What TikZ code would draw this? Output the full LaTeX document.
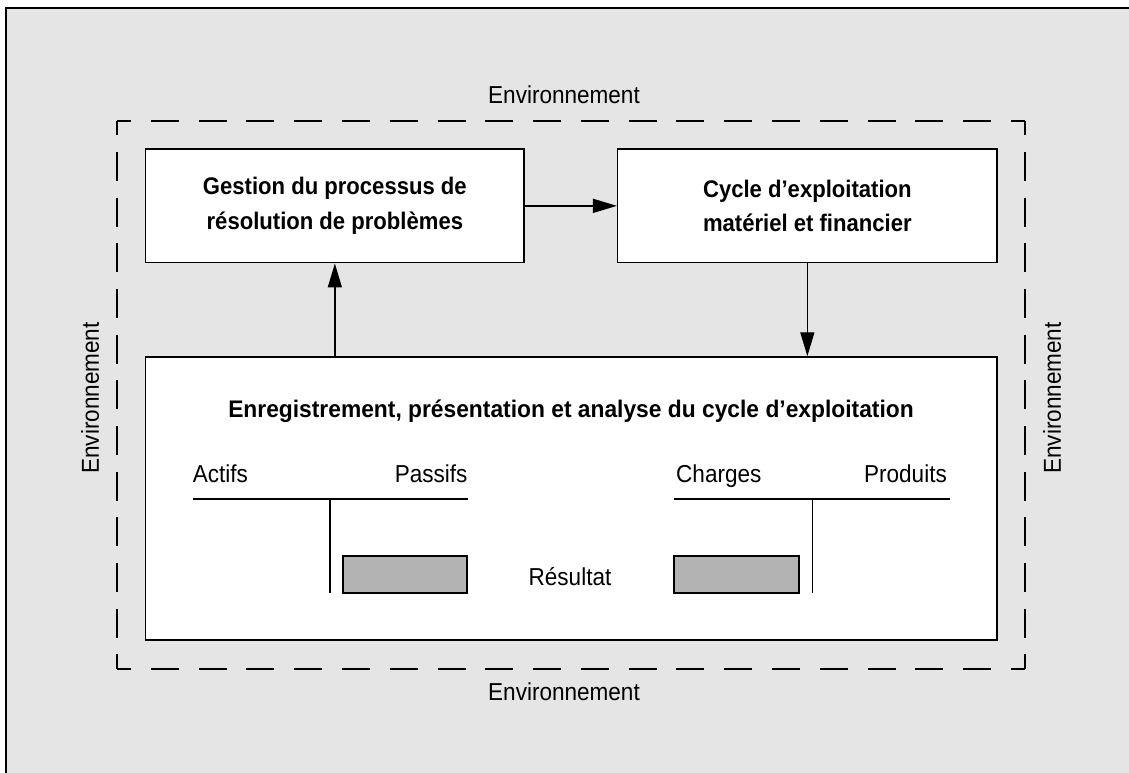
\documentclass[tikz,border=0pt]{standalone}
\usepackage{fontspec}
\setmainfont{Liberation Sans}[FakeStretch=0.92]
\usetikzlibrary{arrows.meta}
\definecolor{paneled}{HTML}{E5E5E5}
\definecolor{resultfill}{HTML}{B3B3B3}

\tikzset{
  procbox/.style={draw, line width=1.5pt, fill=white, inner sep=0pt,
    font=\fontsize{24}{34.3}\selectfont\bfseries, align=center},
  plain/.style={font=\fontsize{24.5}{29}\selectfont, inner sep=0pt},
  flow/.style={line width=1.4pt, -{Triangle[length=24pt,width=14pt]}},
  envline/.style={line width=1.8pt},
  tline/.style={line width=1.6pt},
  resbox/.style={draw, line width=1.7pt, fill=resultfill, inner sep=0pt}
}

\begin{document}
\begin{tikzpicture}[x=1pt,y=-1pt]
\useasboundingbox (0,0) rectangle (1129,773);

% panel
\fill[paneled] (5.8,8) rectangle (1129,773);
\draw[line width=2pt] (5.8,773) -- (5.8,8) -- (1129,8);

% environment frame, each side dashed on its own so the corners stay closed
\draw[envline, dash pattern=on 28pt off 19.79pt, dash phase=14pt] (117,120.7) -- (1025,120.7);
\draw[envline, dash pattern=on 28pt off 19.79pt, dash phase=14pt] (117,669) -- (1025,669);
\draw[envline, dash pattern=on 29pt off 16.69pt, dash phase=14.5pt] (117,120.7) -- (117,669);
\draw[envline, dash pattern=on 29pt off 16.69pt, dash phase=14.5pt] (1025,120.7) -- (1025,669);

\node[plain, anchor=base] (envtop) at (564,104) {Environnement};
\node[plain, anchor=base] (envbot) at (564,700) {Environnement};
\node[plain, rotate=90] (envleft) at (90,398) {Environnement};
\node[plain, rotate=90] (envright) at (1052,398) {Environnement};

% process boxes
\node[procbox, minimum width=378.3pt, minimum height=113.7pt] (gestion) at (334.85,205.85)
  {Gestion du processus de\\résolution de problèmes};
\node[procbox, minimum width=379.3pt, minimum height=113.7pt] (cycle) at (807.35,205.85)
  {Cycle d’exploitation\\matériel et financier};
\node[procbox, minimum width=851.3pt, minimum height=283pt] (enreg) at (571.35,498.5) {};

\node[font=\fontsize{24}{29}\selectfont\bfseries\addfontfeature{FakeStretch=0.95}, inner sep=0pt, anchor=base] (titre) at (571,417.3)
  {Enregistrement, présentation et analyse du cycle d’exploitation};

% flows
\draw[flow] (gestion.east) -- (cycle.west);
\draw[flow] (cycle.south) -- (cycle.south |- enreg.north);
\draw[flow] (gestion.south |- enreg.north) -- (gestion.south);

% balance sheet T-account
\node[plain, anchor=base west] (actifs) at (192.7,482.7) {Actifs};
\node[plain, anchor=base east] (passifs) at (467.7,482.7) {Passifs};
\draw[tline] (192.7,499) -- (467.7,499);
\draw[tline] (330,499) -- (330,593);

% income statement T-account
\node[plain, anchor=base west] (charges) at (676,482.7) {Charges};
\node[plain, anchor=base east] (produits) at (947,482.7) {Produits};
\draw[tline] (674,499) -- (950,499);
\draw[tline] (812.3,499) -- (812.3,593);

% result on both sides
\node[resbox, minimum width=124pt, minimum height=37pt] (resgauche) at (405.3,574.2) {};
\node[resbox, minimum width=125pt, minimum height=37pt] (resdroite) at (736.8,574.2) {};
\node[plain, anchor=base] (resultat) at (570,585) {Résultat};

\end{tikzpicture}
\end{document}
